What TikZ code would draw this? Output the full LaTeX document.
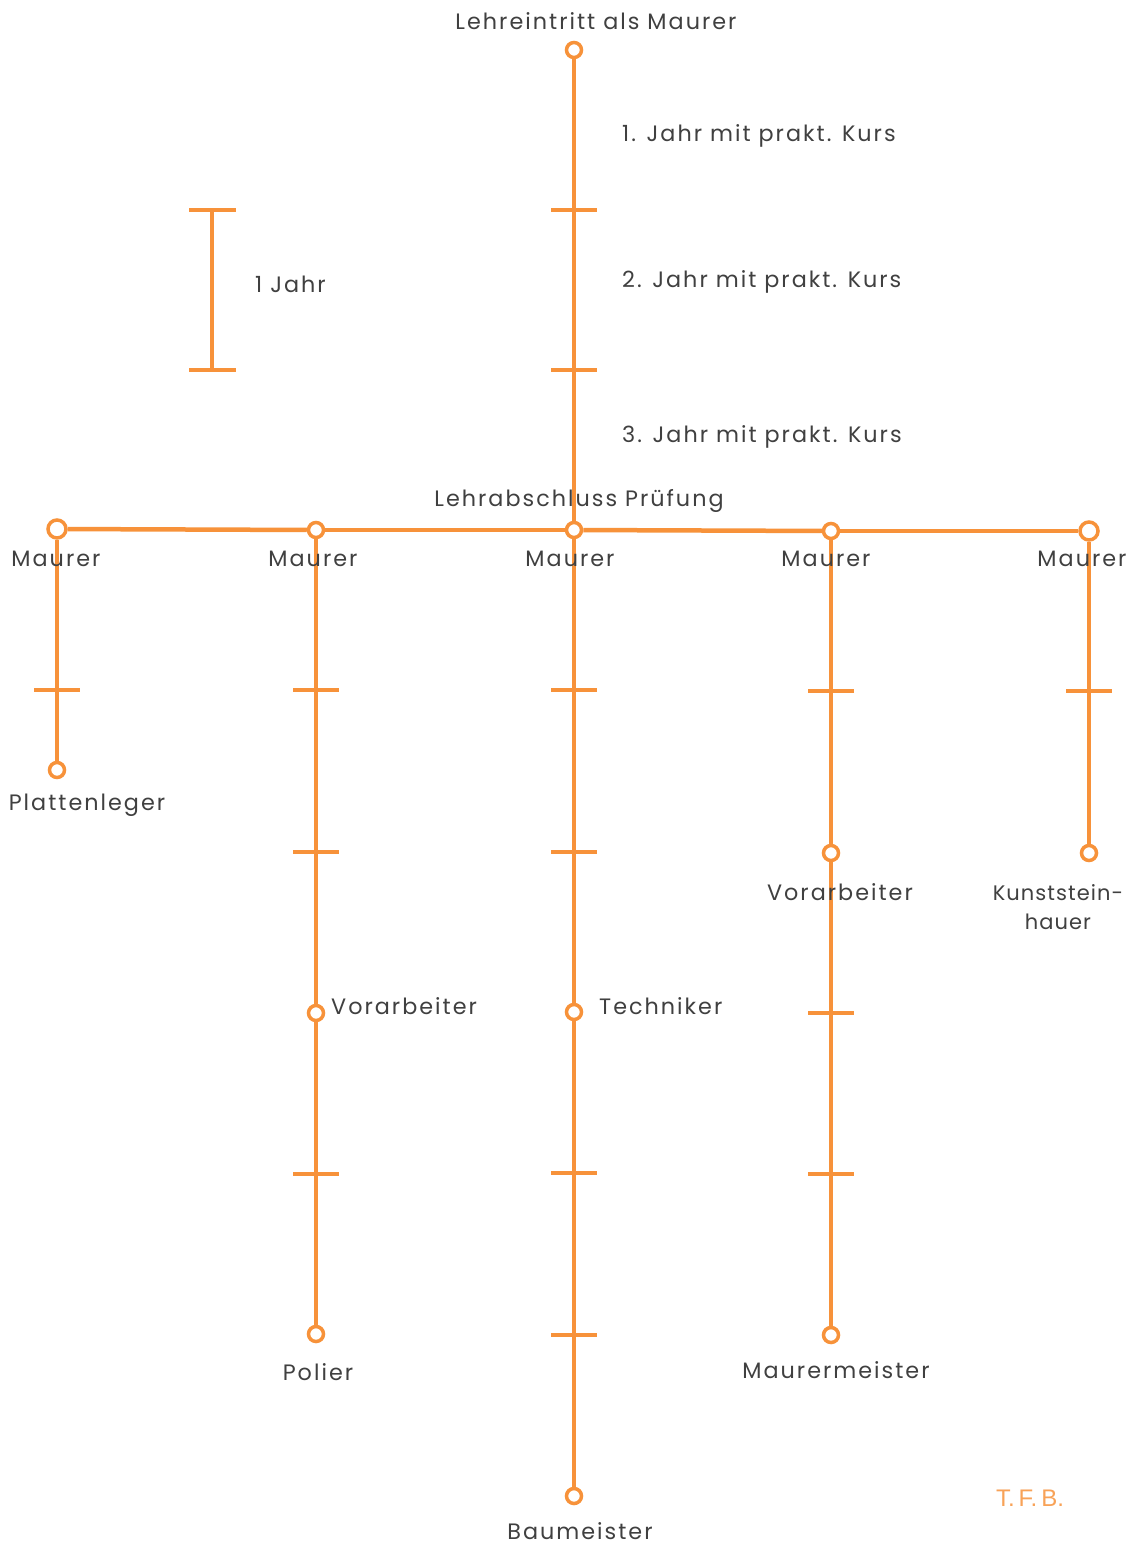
\documentclass[tikz,border=0pt]{standalone}
\usepackage{fontspec}
\setmainfont{Poppins}[LetterSpace=9]
\newfontfamily\tightfont{Poppins}[LetterSpace=5]
\newfontfamily\tfbfont{Liberation Sans}
\definecolor{org}{RGB}{247,146,58}
\definecolor{txt}{RGB}{64,64,64}
\begin{document}
\begin{tikzpicture}[x=1pt,y=-1pt,
  line/.style={draw=org,line width=4.5pt},
  stop/.style={circle,draw=org,line width=3.5pt,fill=white,inner sep=0pt,minimum size=15pt},
  bigstop/.style={stop,minimum size=18pt},
  lbl/.style={text=txt,font=\fontsize{22.3}{26}\selectfont,inner sep=0pt},
  tick/.style={draw=org,line width=3.5pt}]
\useasboundingbox[fill=white] (0,0) rectangle (1136,1546);
% --- nodes
\node[stop] (top) at (574,50) {};
\node[stop] (c3) at (574,530) {};
\node[bigstop] (c1) at (57,529) {};
\node[stop] (c2) at (316,530) {};
\node[stop] (c4) at (831,531) {};
\node[bigstop] (c5) at (1089,531) {};
\node[stop] (e1) at (57,770) {};
\node[stop] (v2) at (316,1013) {};
\node[stop] (e2) at (316,1334) {};
\node[stop] (t3) at (574,1012) {};
\node[stop] (e3) at (574,1496) {};
\node[stop] (v4) at (831,853) {};
\node[stop] (e4) at (831,1335) {};
\node[stop] (e5) at (1089,853) {};
% --- lines
\draw[line] (top) -- (c3);
\draw[line] (c1) -- (c2);
\draw[line] (c2) -- (c3);
\draw[line] (c3) -- (c4);
\draw[line] (c4) -- (c5);
\draw[line] (c1) -- (e1);
\draw[line] (c2) -- (v2);
\draw[line] (v2) -- (e2);
\draw[line] (c3) -- (t3);
\draw[line] (t3) -- (e3);
\draw[line] (c4) -- (v4);
\draw[line] (v4) -- (e4);
\draw[line] (c5) -- (e5);
% --- ticks
\foreach \x/\y in {574/210,574/370,
  57/690,
  316/690,316/852,316/1174,
  574/690,574/852,574/1173,574/1335,
  831/691,831/1013,831/1174,
  1089/691}{
  \coordinate (tl) at (\x-23,\y);
  \coordinate (tr) at (\x+23,\y);
  \draw[tick] (tl) -- (tr);
}
% --- scale bar
\coordinate (sa) at (212,210);
\coordinate (sb) at (212,370);
\coordinate (sa1) at (189,210);
\coordinate (sa2) at (236,210);
\coordinate (sb1) at (189,370);
\coordinate (sb2) at (236,370);
\draw[tick] (sa) -- (sb);
\draw[tick] (sa1) -- (sa2);
\draw[tick] (sb1) -- (sb2);
\node[lbl,anchor=west] (jahr) at (255,284) {1 Jahr};
% --- labels
\node[lbl] (lt) at (596,21) {Lehreintritt als Maurer};
\node[lbl,anchor=west] (y1) at (622,136) {1. Jahr mit prakt. Kurs};
\node[lbl,anchor=west] (y2) at (622,282) {2. Jahr mit prakt. Kurs};
\node[lbl,anchor=west] (y3) at (622,437) {3. Jahr mit prakt. Kurs};
\node[lbl] (lp) at (579,501) {Lehrabschluss Prüfung};
\node[lbl] (m1) at (56,559) {Maurer};
\node[lbl] (m2) at (313,559) {Maurer};
\node[lbl] (m3) at (570,559) {Maurer};
\node[lbl] (m4) at (826,559) {Maurer};
\node[lbl] (m5) at (1082,559) {Maurer};
\node[lbl] (pl) at (87,805) {Plattenleger};
\node[lbl,anchor=west] (vo2) at (331,1006) {Vorarbeiter};
\node[lbl,anchor=west] (te) at (599,1006) {Techniker};
\node[lbl] (vo4) at (840,892) {Vorarbeiter};
\node[lbl,align=center,font=\tightfont\fontsize{21}{26}\selectfont] (ks) at (1058,907) {Kunststein-\\[3pt]hauer};
\node[lbl] (po) at (318,1372) {Polier};
\node[lbl] (mm) at (836,1370) {Maurermeister};
\node[lbl] (bm) at (580,1531) {Baumeister};
\node[text=org!85,font=\tfbfont\fontsize{24}{28}\selectfont,inner sep=0pt] (tfb) at (1030,1498) {T.\,F.\,B.};
\end{tikzpicture}
\end{document}
